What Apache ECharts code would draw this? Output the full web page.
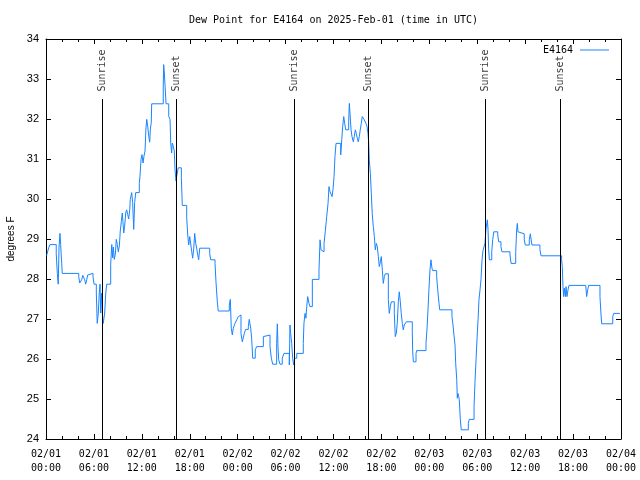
<!DOCTYPE html>
<html><head><meta charset="utf-8">
<script src="https://cdn.jsdelivr.net/npm/echarts@6/dist/echarts.min.js"></script>
<style>html,body{margin:0;padding:0;background:#fff}#c{width:640px;height:480px}</style>
</head><body><div id="c"></div>
<script>
// minutes since 2025-02-01 00:00 UTC
const times = [5,20,30,77,85,92,98,105,110,118,122,246,253,261,268,276,283,291,298,306,313,321,353,361,378,385,393,400,406,411,418,423,430,441,449,456,486,494,501,506,513,521,528,536,543,551,558,566,573,578,584,591,599,606,614,621,629,633,644,651,659,666,674,701,706,714,721,729,736,744,751,757,764,772,779,784,791,794,881,884,889,894,902,922,932,937,944,949,956,964,969,977,982,986,994,1017,1024,1057,1065,1072,1080,1087,1095,1102,1110,1117,1125,1132,1140,1147,1155,1230,1237,1270,1277,1287,1294,1377,1385,1392,1400,1407,1420,1433,1445,1458,1465,1475,1490,1500,1520,1527,1538,1545,1553,1572,1583,1633,1643,1683,1693,1703,1733,1738,1743,1748,1758,1775,1788,1828,1833,1838,1846,1853,1861,1868,1884,1933,1938,1946,1953,1959,1966,1976,1983,2001,2051,2059,2066,2074,2089,2098,2109,2119,2126,2134,2149,2156,2164,2171,2179,2214,2222,2229,2237,2244,2252,2274,2279,2284,2292,2299,2309,2316,2324,2331,2339,2346,2354,2361,2369,2376,2391,2404,2412,2419,2424,2429,2437,2444,2451,2459,2467,2474,2482,2489,2497,2504,2512,2519,2527,2534,2542,2549,2572,2579,2587,2594,2617,2624,2632,2639,2647,2654,2662,2669,2677,2684,2692,2707,2752,2755,2760,2780,2785,2855,2862,2870,2877,2885,2892,2900,2905,2935,2943,2953,2958,3050,3058,3065,3073,3078,3086,3090,3095,3101,3105,3113,3120,3173,3180,3216,3223,3231,3238,3246,3253,3261,3268,3276,3283,3298,3306,3311,3316,3321,3326,3331,3349,3356,3364,3394,3401,3418,3426,3486,3494,3529,3536,3541,3546,3554,3593,3601,3631,3639,3644,3651,3711,3719,3874,3879,3884,3889,3894,3902,3907,3914,3922,3929,4055,4062,4070,4077,4162,4170,4175,4258,4265,4312];
const dewPoint = [28.59,28.78,28.86,28.63,28.14,27.87,28.8,29.14,28.86,28.39,28.14,28.06,27.9,27.87,27.98,28.09,28.14,27.98,27.87,27.98,28.1,28.14,28.06,27.87,27.65,26.89,27.15,27.65,27.87,27.15,27.65,27.15,26.89,27.15,27.65,27.87,28.37,28.86,28.53,28.8,28.49,28.62,28.99,28.86,28.68,28.82,29.2,29.44,29.65,29.44,29.15,29.32,29.65,29.73,29.61,29.5,29.73,29.99,30.16,29.91,29.24,29.91,30.16,30.39,30.57,30.99,31.11,30.9,31.07,31.2,31.78,31.99,31.82,31.57,31.42,31.74,31.92,32.38,32.82,33.36,33.15,32.86,32.38,32.07,31.99,31.4,31.15,31.4,31.32,31.2,30.74,30.45,30.57,30.65,30.78,30.53,29.84,29.53,29.1,28.85,29.06,29.1,28.68,28.52,28.77,29.14,28.89,28.77,28.6,28.48,28.77,28.64,28.48,28.39,27.93,27.43,27.2,27.35,27.49,26.77,26.6,26.77,26.89,26.98,27.06,27.1,26.64,26.43,26.64,26.74,26.81,26.99,26.77,26.52,26.02,26.23,26.31,26.56,26.6,26.31,26.02,25.87,26.39,26.88,26.31,25.98,25.87,26.02,26.14,25.85,26.85,26.64,26.39,26.02,25.85,26.02,26.14,26.39,26.89,27.14,27.02,27.31,27.56,27.39,27.31,27.99,28.22,28.98,28.73,28.68,28.89,29.18,29.56,29.89,30.31,30.18,30.06,30.23,30.56,31.06,31.39,31.1,31.48,31.81,32.06,31.89,31.73,31.93,32.39,32.14,31.73,31.56,31.43,31.56,31.73,31.64,31.52,31.43,31.56,31.73,31.89,32.06,31.98,31.89,31.81,31.64,31.43,30.98,30.64,30.14,29.64,29.31,29.06,28.73,28.89,28.81,28.56,28.31,28.43,28.56,28.22,27.89,28.06,28.13,27.48,27.14,27.31,27.43,27.14,26.56,26.64,26.89,27.43,27.68,27.43,27.14,26.89,26.73,26.85,26.93,26.68,26.18,25.93,26.14,26.21,26.39,26.73,27.23,27.73,28.23,28.48,28.27,28.21,28.06,27.73,27.38,27.23,27.06,26.85,26.6,26.35,25.89,25.48,25.02,25.14,25.06,24.98,24.48,24.23,24.39,24.49,24.81,25.43,25.98,26.48,26.98,27.48,27.73,27.98,28.48,28.71,28.89,29.27,29.23,29.48,29.23,28.73,28.48,28.68,28.98,29.18,29.1,28.93,28.81,28.68,28.6,28.39,28.66,29.23,29.39,29.18,29.13,28.98,28.85,28.98,29.13,29.0,28.85,28.73,28.58,28.48,28.31,27.81,27.56,27.77,27.56,27.81,27.56,27.73,27.84,27.81,27.56,27.73,27.84,27.56,27.1,26.88,27.06,27.14,27.14];
const sunriseTimes = [422, 1864, 3302];
const sunsetTimes = [980, 2422, 3862];
const xTickLabels = ['02/01\n00:00','02/01\n06:00','02/01\n12:00','02/01\n18:00','02/02\n00:00','02/02\n06:00','02/02\n12:00','02/02\n18:00','02/03\n00:00','02/03\n06:00','02/03\n12:00','02/03\n18:00','02/04\n00:00'];
const seriesName = 'E4164';
const titleText = 'Dew Point for E4164 on 2025-Feb-01 (time in UTC)';
const yName = 'degrees F';

const MONO = '"DejaVu Sans Mono", "Liberation Mono", monospace';
const SANS = '"Liberation Sans", Arial, sans-serif';
const xMin = 0, xMax = 4320, xStep = 360;
const yMin = 24, yMax = 34, yStep = 1;
const sunTop = 32.5;

const mainData = times.map((t, i) => [t, dewPoint[i]]);
const sunEvents = sunriseTimes.map(t => [t, sunTop, 'Sunrise'])
  .concat(sunsetTimes.map(t => [t, sunTop, 'Sunset']));

const chart = echarts.init(document.getElementById('c'), null, {renderer: 'canvas'});
const baseX = {
  type: 'value', min: xMin, max: xMax, interval: xStep,
  axisLine: {show: true, onZero: false, lineStyle: {color: '#000', width: 1}},
  axisTick: {show: true, inside: true, length: 5, lineStyle: {color: '#000'}},
  minorTick: {show: true, splitNumber: 3, length: 3, lineStyle: {color: '#000'}},
  splitLine: {show: false}
};
const baseY = {
  type: 'value', min: yMin, max: yMax, interval: yStep,
  axisLine: {show: true, onZero: false, lineStyle: {color: '#000', width: 1}},
  axisTick: {show: true, inside: true, length: 5, lineStyle: {color: '#000'}},
  splitLine: {show: false}
};
chart.setOption({
  animation: false,
  backgroundColor: '#fff',
  title: {
    text: titleText, left: 189, top: 15, padding: 0,
    textStyle: {fontFamily: MONO, fontSize: 10, fontWeight: 'normal', color: '#000'}
  },
  legend: {
    data: [seriesName], right: 26, top: 40, align: 'right',
    icon: 'rect', itemWidth: 29, itemHeight: 1, itemGap: 7,
    textStyle: {fontFamily: MONO, fontSize: 10, color: '#000', padding: [0, 2, 0, 0]}
  },
  grid: {left: 46, right: 19, top: 39, bottom: 41, containLabel: false, outerBoundsMode: 'none'},
  xAxis: [
    Object.assign({}, baseX, {
      position: 'bottom',
      axisLabel: {show: true, margin: 8, fontFamily: MONO, fontSize: 10, lineHeight: 14, color: '#000',
        formatter: v => xTickLabels[Math.round((v - xMin) / xStep)] || ''}
    }),
    Object.assign({}, baseX, {position: 'top', axisLabel: {show: false}})
  ],
  yAxis: [
    Object.assign({}, baseY, {
      position: 'left',
      name: yName, nameLocation: 'middle', nameGap: 30,
      nameTextStyle: {fontFamily: SANS, fontSize: 10, color: '#000'},
      axisLabel: {show: true, margin: 7, fontFamily: SANS, fontSize: 11, color: '#000'}
    }),
    Object.assign({}, baseY, {position: 'right', axisLabel: {show: false}})
  ],
  series: [
    {
      name: seriesName, type: 'line', step: 'end', data: mainData,
      xAxisIndex: 0, yAxisIndex: 0,
      showSymbol: false, symbol: 'none',
      lineStyle: {color: '#1984ff', width: 1},
      itemStyle: {color: '#1984ff'},
      z: 3
    },
    {
      name: 'sun', type: 'scatter', data: sunEvents,
      xAxisIndex: 0, yAxisIndex: 0,
      symbolSize: 1, itemStyle: {color: 'rgba(0,0,0,0)'},
      silent: true,
      label: {
        show: true, position: 'top', distance: 7, rotate: 90,
        align: 'left', verticalAlign: 'middle',
        fontFamily: MONO, fontSize: 10, color: '#000',
        formatter: p => p.data[2]
      },
      markLine: {
        silent: true, symbol: ['none', 'none'], animation: false,
        label: {show: false},
        lineStyle: {color: '#000', width: 1, type: 'solid'},
        data: sunEvents.map(e => [{coord: [e[0], yMin]}, {coord: [e[0], sunTop]}])
      },
      z: 2
    }
  ]
});
</script></body></html>
